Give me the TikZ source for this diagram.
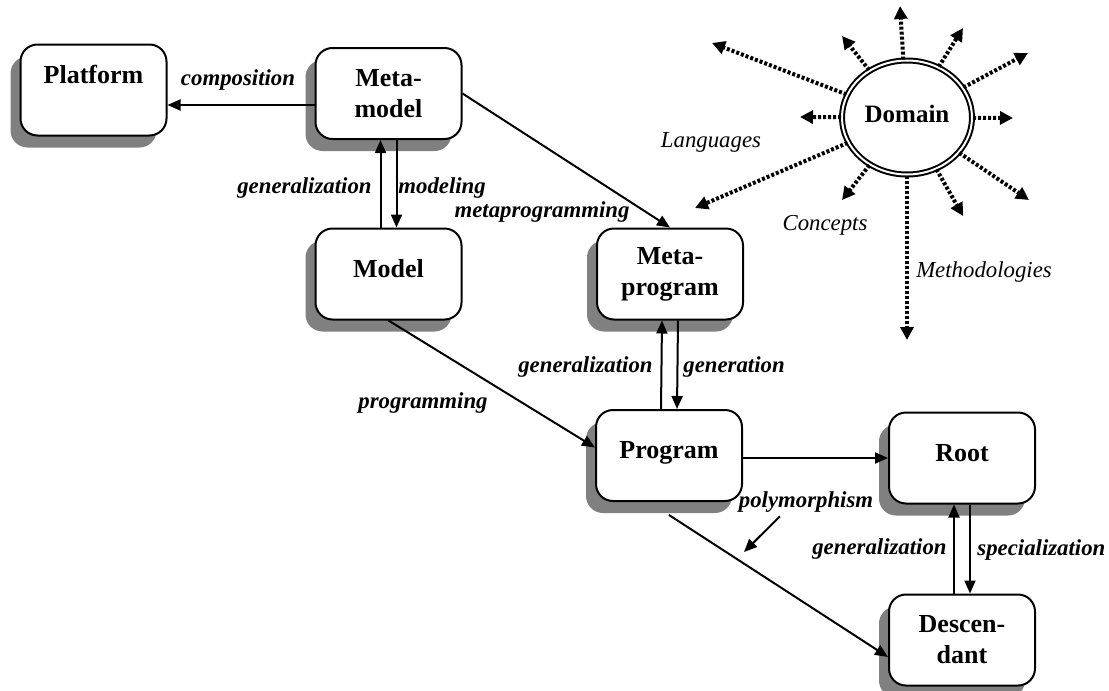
\documentclass[tikz,border=0pt]{standalone}
\usepackage{fontspec}
\setmainfont{Liberation Serif}
\usetikzlibrary{arrows.meta, shadows, shapes.geometric}

\tikzset{
  box/.style={draw, line width=1pt, rounded corners=8.5pt, fill=white,
    minimum width=73pt, minimum height=45.5pt, align=center,
    font=\fontsize{13}{15.5}\selectfont\bfseries,
    drop shadow={shadow xshift=-5pt, shadow yshift=-6pt, fill=gray, opacity=1}},
  single/.style={text height=9.2pt, text depth=6pt},
  domainoval/.style={ellipse, draw, double, double distance=1pt, line width=1pt,
    minimum width=65pt, minimum height=57pt, inner sep=0pt,
    font=\fontsize{12.5}{15}\selectfont\bfseries},
  conn/.style={line width=1pt, -{Triangle[length=6.5pt,width=5.5pt]}},
  lbl/.style={inner sep=0pt, font=\fontsize{11.4}{13}\selectfont\bfseries\itshape},
  note/.style={inner sep=0pt, font=\fontsize{11.4}{13}\selectfont\itshape},
  ray/.style={line width=2pt, dash pattern=on 1.5pt off 1pt,
    -{Triangle[length=6.5pt,width=6.5pt]}}
}

\begin{document}
\begin{tikzpicture}[x=0.5pt, y=-0.5pt]
    \useasboundingbox (0,0) rectangle (1109,691);

    % boxes
    \node[box] (platform) at (93.5,90) {Platform\\ \mbox{}};
    \node[box] (metamodel) at (388.5,93.5) {Meta-\\model};
    \node[box, single] (model) at (388.5,274) {Model};
    \node[box] (metaprogram) at (670,274) {Meta-\\program};
    \node[box, single] (program) at (669,455.5) {Program};
    \node[box, single] (root) at (962,458) {Root};
    \node[box] (descendant) at (962,640) {Descen-\\dant};

    % domain and its rays
    \node[domainoval] (dom) at (907,117.5) {\raisebox{3.5pt}{Domain}};
    \coordinate (r1) at (900,6);
    \coordinate (r2) at (842,36);
    \coordinate (r3) at (963,28);
    \coordinate (r4) at (1028,53);
    \coordinate (r5) at (1013,118);
    \coordinate (r6) at (1029,200);
    \coordinate (r7) at (963,216);
    \coordinate (r8) at (907,340);
    \coordinate (r9) at (842,200);
    \coordinate (r10) at (695,208);
    \coordinate (r11) at (800,117);
    \coordinate (r12) at (712,43);
    \foreach \i in {1,...,12}
        \draw[ray] (dom) -- (r\i);

    \node[note, anchor=base] (lang) at (711,147) {Languages};
    \node[note, anchor=base] (conc) at (825,230) {Concepts};
    \node[note, anchor=base] (meth) at (984,277) {Methodologies};

    % labels
    \node[lbl, anchor=base] (comp) at (238,85) {composition};
    \node[lbl, anchor=base east] (gen1) at (372,193) {generalization};
    \node[lbl, anchor=base west] (modl) at (398,193) {modeling};
    \node[lbl, anchor=base] (metaprog) at (542,217) {metaprogramming};
    \node[lbl, anchor=base] (progr) at (423,408) {programming};
    \node[lbl, anchor=base east] (gen2) at (653,372) {generalization};
    \node[lbl, anchor=base west] (gener) at (683,372) {generation};
    \node[lbl, anchor=base] (poly) at (806,507) {polymorphism};
    \node[lbl, anchor=base east] (gen3) at (947,554) {generalization};
    \node[lbl, anchor=base west] (spec) at (977,555) {specialization};

    % connectors
    \draw[conn] ([yshift=-5.75pt]metamodel.west) -- ([yshift=-7.5pt]platform.east);
    \draw[conn] ([xshift=-4pt]model.north) -- ([xshift=-4pt]metamodel.south);
    \draw[conn] ([xshift=4pt]metamodel.south) -- ([xshift=4pt]model.north);
    \draw[conn] (metamodel.east) -- (metaprogram.north);
    \draw[conn] (model.south) -- ([yshift=4pt]program.west);
    \draw[conn] ([xshift=-4pt]program.north) -- ([xshift=-4pt]metaprogram.south);
    \draw[conn] ([xshift=4pt]metaprogram.south) -- ([xshift=4pt]program.north);
    \draw[conn] (program.east |- root.west) -- (root.west);
    \draw[conn] ([yshift=-6.5pt]program.south) -- ([yshift=-8.5pt]descendant.west);
    \draw[conn] ([xshift=-4pt]descendant.north) -- ([xshift=-4pt]root.south);
    \draw[conn] ([xshift=4pt]root.south) -- ([xshift=4pt]descendant.north);
    \coordinate (polytip) at (744,552);
    \draw[conn] ([xshift=-13pt,yshift=-2pt]poly.south) -- (polytip);
\end{tikzpicture}
\end{document}
